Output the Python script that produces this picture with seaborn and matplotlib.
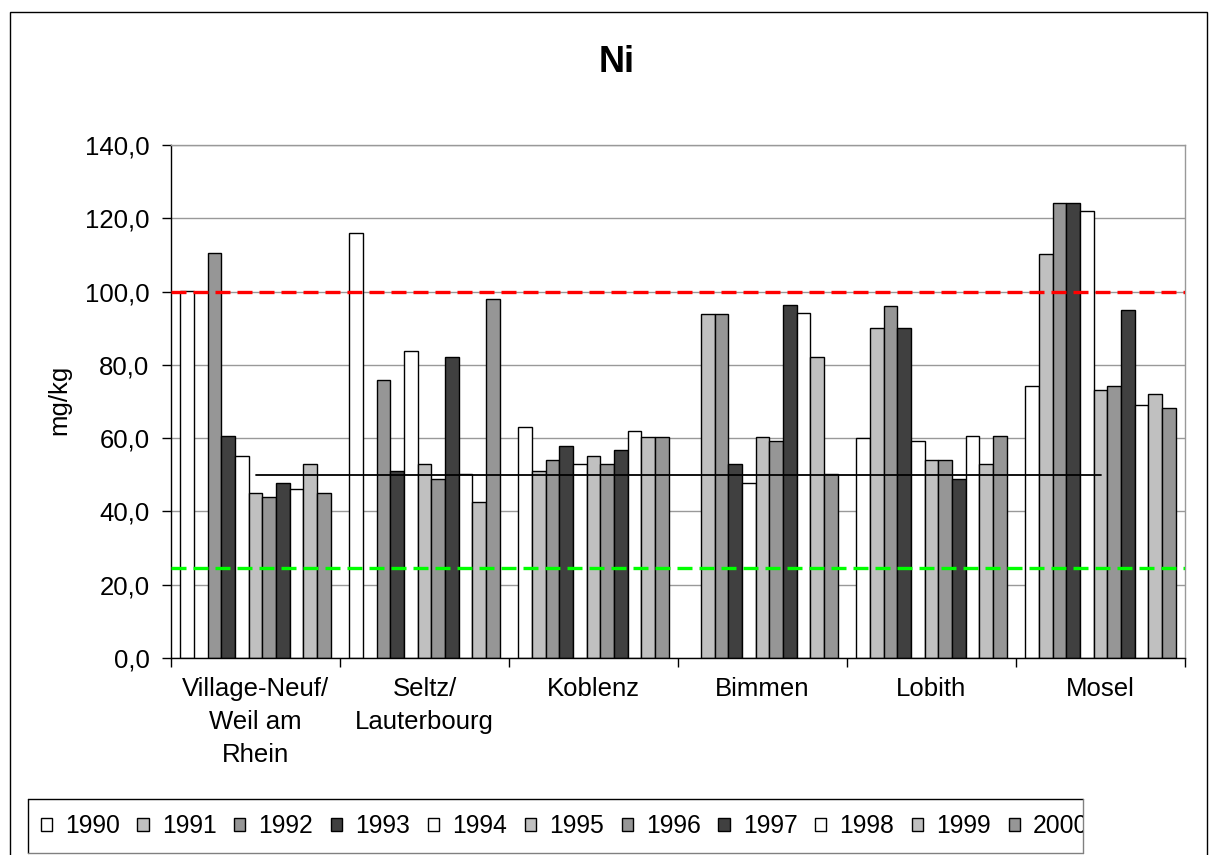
import numpy as np
import pandas as pd
import matplotlib
matplotlib.use("Agg")
import matplotlib.pyplot as plt
import seaborn as sns
from matplotlib.patches import Rectangle, Patch
from matplotlib.lines import Line2D
from matplotlib.ticker import FixedLocator, FuncFormatter
from matplotlib.transforms import Bbox, TransformedBbox

# ---------------- data ----------------
stations = ["Village-Neuf/\nWeil am\nRhein", "Seltz/\nLauterbourg", "Koblenz",
            "Bimmen", "Lobith", "Mosel"]
years = ["1990", "1991", "1992", "1993", "1994", "1995",
         "1996", "1997", "1998", "1999", "2000"]
nan = np.nan
village = [100.2, nan, 110.4, 60.7, 55.0, 44.9, 44.0, 47.8, 46.1, 52.9, 45.1]
seltz = [116.1, nan, 75.9, 51.1, 83.8, 52.9, 48.8, 82.1, 50.2, 42.7, 98.0]
koblenz = [63.0, 51.1, 54.0, 57.8, 52.9, 55.0, 52.9, 56.9, 62.0, 60.2, 60.2]
bimmen = [nan, 94.0, 94.0, 52.9, 47.7, 60.2, 59.1, 96.3, 94.2, 82.1, 50.2]
lobith = [60.0, 90.0, 96.1, 90.0, 59.1, 53.9, 53.9, 48.9, 60.7, 52.9, 60.7]
mosel = [74.2, 110.3, 124.2, 124.2, 122.1, 73.1, 74.2, 95.1, 69.1, 72.0, 68.1]
series = [village, seltz, koblenz, bimmen, lobith, mosel]

upper_ref = 100.0     # red dashed
lower_ref = 24.5      # green dashed
target_ref = 50.0     # black line
yticks = [0, 20, 40, 60, 80, 100, 120, 140]

colors = ["#FFFFFF", "#C0C0C0", "#969696", "#404040",
          "#FFFFFF", "#C0C0C0", "#969696", "#404040",
          "#FFFFFF", "#C0C0C0", "#969696"]

rows = []
for st, vals in zip(stations, series):
    for yr, v in zip(years, vals):
        if not np.isnan(v):
            rows.append({"station": st, "year": yr, "value": v})
df = pd.DataFrame(rows)

# ---------------- figure ----------------
W, H = 1210, 855
DPI = 100
sns.set_style("white")
plt.rcParams["font.family"] = ["Liberation Sans", "DejaVu Sans"]
plt.rcParams["text.color"] = "black"
plt.rcParams["xtick.color"] = "black"
plt.rcParams["ytick.color"] = "black"
plt.rcParams["axes.labelcolor"] = "black"

fig = plt.figure(figsize=(W / DPI, H / DPI), dpi=DPI)
L, R, T, B = 171, 1185, 145, 658
ax = fig.add_axes([L / W, 1 - B / H, (R - L) / W, (B - T) / H])


def fx(px):
    return px / W


def fy(py):
    return 1 - py / H


sns.barplot(data=df, x="station", y="value", hue="year", order=stations,
            hue_order=years, palette=colors, saturation=1, width=0.89,
            edgecolor="black", linewidth=1.0, legend=False, ax=ax, zorder=2)

ax.set_ylim(0, 140)
ax.set_xlim(-0.5, len(stations) - 0.5)
ax.set_yticks(yticks)
ax.yaxis.set_major_formatter(FuncFormatter(lambda v, p: f"{v:.1f}".replace(".", ",")))
ax.grid(axis="y", color="#999999", lw=1.0, zorder=0)
ax.set_axisbelow(True)

ax.axhline(upper_ref, color="#FF0000", lw=2.4, ls=(0, (4.5, 2.1)), zorder=4)
ax.axhline(lower_ref, color="#00FF00", lw=2.4, ls=(0, (4.5, 2.1)), zorder=4)
ax.plot([0, len(stations) - 1], [target_ref, target_ref], color="black", lw=1.3, zorder=5)

for s in ["left", "bottom"]:
    ax.spines[s].set_color("black")
    ax.spines[s].set_linewidth(1.0)
for s in ["top", "right"]:
    ax.spines[s].set_color("#999999")
    ax.spines[s].set_linewidth(1.0)

ax.set_xlabel("")
ax.set_ylabel("")
ax.tick_params(axis="y", direction="out", length=6.5, width=1, color="black",
               labelcolor="black", labelsize=18.5, pad=9, left=True)
ax.xaxis.set_minor_locator(FixedLocator(np.arange(-0.5, len(stations), 1.0)))
ax.tick_params(axis="x", which="minor", direction="out", length=6.5, width=1,
               color="black", bottom=True)
ax.tick_params(axis="x", which="major", length=0, labelsize=18.5, pad=14,
               labelcolor="black")
for lab in ax.get_xticklabels():
    lab.set_linespacing(1.45)
    lab.set_multialignment("center")

# title and y label
fig.text(fx(617), fy(62), "Ni", ha="center", va="center", fontsize=26,
         fontweight="bold", color="black")
fig.text(fx(59), fy(400), "mg/kg", ha="center", va="center", rotation=90,
         fontsize=18.5, color="black")

# outer chart border
fig.add_artist(Rectangle((fx(9.5), fy(900)), fx(1207 - 9.5), (900 - 12) / H,
                         transform=fig.transFigure, fill=False,
                         edgecolor="black", lw=1.0))

# legend box
lx0, lx1, ly0, ly1 = 28, 1083, 799, 853
fig.add_artist(Line2D([fx(lx0), fx(lx1)], [fy(ly0), fy(ly0)], color="black", lw=1.0,
                      transform=fig.transFigure))
fig.add_artist(Line2D([fx(lx0), fx(lx0)], [fy(ly0), fy(ly1)], color="black", lw=1.0,
                      transform=fig.transFigure))
fig.add_artist(Line2D([fx(lx1), fx(lx1)], [fy(ly0), fy(ly1)], color="#808080", lw=1.0,
                      transform=fig.transFigure))
fig.add_artist(Line2D([fx(lx0), fx(lx1)], [fy(ly1), fy(ly1)], color="#808080", lw=1.0,
                      transform=fig.transFigure))

handles = [Patch(facecolor=c, edgecolor="black", lw=1.0) for c in colors]
leg = fig.legend(handles, years, ncol=len(years), loc="center left",
                 bbox_to_anchor=(fx(40.5), fy(826)), frameon=False,
                 fontsize=17.8, handlelength=0.45, handleheight=0.45,
                 handletextpad=0.53, columnspacing=0.72, borderpad=0,
                 borderaxespad=0, labelcolor="black")
clip = TransformedBbox(Bbox.from_extents(fx(lx0), fy(ly1), fx(lx1), fy(ly0)),
                       fig.transFigure)
for t in leg.get_texts():
    t.set_clip_box(clip)
    t.set_clip_on(True)

fig.savefig("out.png", dpi=DPI)
